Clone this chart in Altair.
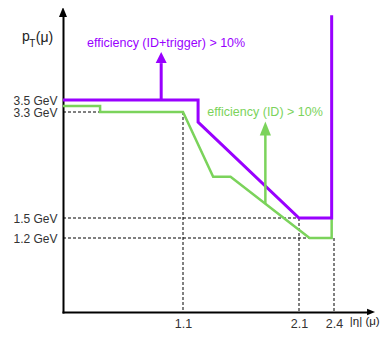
import altair as alt
import pandas as pd

# ---- data ----
purple_eta = [0, 1.23, 1.23, 2.1, 2.38, 2.38]
purple_pt = [3.5, 3.5, 3.13, 1.5, 1.5, 4.88]

green_eta = [0, 0.34, 0.34, 1.1, 1.36, 1.51, 2.19, 2.38, 2.38]
green_pt = [3.4, 3.4, 3.3, 3.3, 2.2, 2.2, 1.2, 1.2, 1.5]

# dashed guide segments (eta1, pt1, eta2, pt2)
guide_eta1 = [0, 1.1, 0, 2.1, 0, 2.4]
guide_pt1 = [3.3, 3.3, 1.5, 1.5, 1.2, 1.2]
guide_eta2 = [0.34, 1.1, 2.1, 2.1, 2.19, 2.4]
guide_pt2 = [3.3, 0, 1.5, 0, 1.2, 0]

x_ticks = [1.1, 2.1, 2.4]
y_ticks = [1.2, 1.5, 3.3, 3.5]

PURPLE = "#9900ff"
GREEN = "#7bd35b"
FONT = "Liberation Sans"

# arrows: shaft (eta, pt_from, pt_to) and head (eta, pt)
p_arrow = dict(eta=[0.9], y1=[3.5], y2=[4.1], head=[4.19])
g_arrow = dict(eta=[1.81], y1=[1.74], y2=[2.93], head=[3.02])

xscale = alt.Scale(domain=[0, 1.1, 2.1, 2.4, 2.69], range=[0, 120, 236, 271, 305], nice=False, zero=False)
yscale = alt.Scale(domain=[0, 1.2, 1.5, 3.3, 3.5, 4.85], range=[295, 221, 201, 95, 83, 0], nice=False, zero=False)

xaxis = alt.Axis(values=x_ticks, format=".1f", title=None, ticks=False, grid=False,
                 domainColor="black", domainWidth=2, domainCap="square",
                 labelFont=FONT, labelFontSize=12.5, labelColor="#333",
                 labelPadding=5, labelFlush=False, labelOverlap=False)
yaxis = alt.Axis(values=y_ticks, labelExpr="format(datum.value, '.1f') + ' GeV'", title=None,
                 ticks=False, grid=False, domainColor="black", domainWidth=2, domainCap="square",
                 labelFont=FONT, labelFontSize=12, labelColor="#333", labelPadding=6,
                 labelOverlap=False)


def X(f):
    return alt.X(f, type="quantitative", scale=xscale, axis=xaxis)


def Y(f):
    return alt.Y(f, type="quantitative", scale=yscale, axis=yaxis)


purple_df = pd.DataFrame({"eta": purple_eta, "pt": purple_pt, "i": range(len(purple_eta))})
green_df = pd.DataFrame({"eta": green_eta, "pt": green_pt, "i": range(len(green_eta))})
guide_df = pd.DataFrame({"e1": guide_eta1, "p1": guide_pt1, "e2": guide_eta2, "p2": guide_pt2})

guides = alt.Chart(guide_df).mark_rule(color="black", strokeWidth=1, strokeDash=[3, 2]).encode(
    x=X("e1"), y=Y("p1"), x2="e2", y2="p2")

green_line = alt.Chart(green_df).mark_line(color=GREEN, strokeWidth=2.5).encode(
    x=X("eta"), y=Y("pt"), order="i:Q")
purple_line = alt.Chart(purple_df).mark_line(color=PURPLE, strokeWidth=3).encode(
    x=X("eta"), y=Y("pt"), order="i:Q")

p_shaft = alt.Chart(pd.DataFrame(p_arrow)).mark_rule(color=PURPLE, strokeWidth=3).encode(
    x=X("eta"), y=Y("y1"), y2="y2")
p_head = alt.Chart(pd.DataFrame(p_arrow)).mark_point(
    shape="M-1,1L1,1L0,-1Z", size=121, filled=True, color=PURPLE, opacity=1).encode(
    x=X("eta"), y=Y("head"))
g_shaft = alt.Chart(pd.DataFrame(g_arrow)).mark_rule(color=GREEN, strokeWidth=2.5).encode(
    x=X("eta"), y=Y("y1"), y2="y2")
g_head = alt.Chart(pd.DataFrame(g_arrow)).mark_point(
    shape="M-0.8,1L0.8,1L0,-1Z", size=196, filled=True, color=GREEN, opacity=1).encode(
    x=X("eta"), y=Y("head"))

# axis arrowheads
yhead = alt.Chart(pd.DataFrame({"eta": [0], "pt": [4.93]})).mark_point(
    shape="M-0.8,1L0.8,1L0,-1Z", size=100, filled=True, color="black", opacity=1).encode(
    x=X("eta"), y=Y("pt"))
xhead = alt.Chart(pd.DataFrame({"eta": [2.716], "pt": [0]})).mark_point(
    shape="M-1,-0.8L1,0L-1,0.8Z", size=64, filled=True, color="black", opacity=1).encode(
    x=X("eta"), y=Y("pt"))

# annotations
ann_df = pd.DataFrame({
    "eta": [0.22, 1.31],
    "pt": [4.42, 3.3],
    "label": ["efficiency (ID+trigger) > 10%", "efficiency (ID) > 10%"],
    "c": ["p", "g"],
})
ann = alt.Chart(ann_df).mark_text(align="left", baseline="middle", font=FONT, fontSize=12.5).encode(
    x=X("eta"), y=Y("pt"), text="label:N",
    color=alt.Color("c:N", scale=alt.Scale(domain=["p", "g"], range=[PURPLE, GREEN]), legend=None))

title_df = pd.DataFrame({
    "eta": [-0.376, -0.31, -0.25, 2.535],
    "pt": [4.46, 4.37, 4.45, -0.17],
    "label": ["p", "T", "(\u03bc)", "|\u03b7| (\u03bc)"],
})
titles_main = alt.Chart(title_df.iloc[[0, 2]]).mark_text(
    align="left", baseline="alphabetic", font=FONT, fontSize=14, color="#222").encode(
    x=X("eta"), y=Y("pt"), text="label:N")
titles_sub = alt.Chart(title_df.iloc[[1]]).mark_text(
    align="left", baseline="alphabetic", font=FONT, fontSize=10, color="#222").encode(
    x=X("eta"), y=Y("pt"), text="label:N")
xtitle = alt.Chart(title_df.iloc[[3]]).mark_text(
    align="left", baseline="middle", font=FONT, fontSize=11.5, color="#222").encode(
    x=X("eta"), y=Y("pt"), text="label:N")

chart = alt.layer(
    guides, green_line, purple_line, p_shaft, p_head, g_shaft, g_head,
    yhead, xhead, ann, titles_main, titles_sub, xtitle
).properties(
    width=305, height=295,
    padding={"left": 55, "top": 9, "right": 13, "bottom": 17},
    autosize="none",
).configure_view(stroke=None)

chart.save("out.html", embed_options={"renderer": "svg", "actions": False})
